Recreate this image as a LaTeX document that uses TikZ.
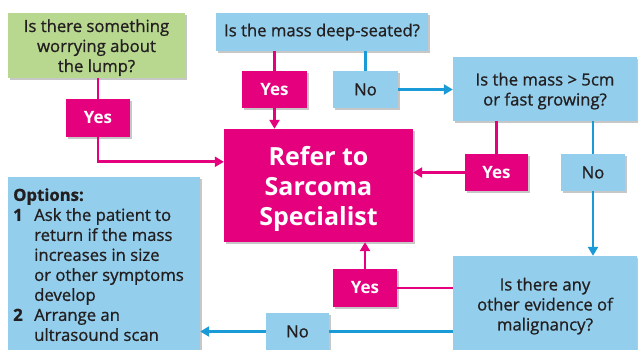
\documentclass[tikz,border=0pt]{standalone}
\usepackage{fontspec}
\setmainfont{Open Sans}
\newfontfamily\medfont[FakeBold=0.9]{Open Sans}
\usetikzlibrary{arrows.meta,shadows,calc}
\definecolor{pk}{HTML}{E5007E}
\definecolor{lb}{HTML}{93CEEC}
\definecolor{gr}{HTML}{B8D78F}
\definecolor{ab}{HTML}{1A9AD7}
\definecolor{tx}{HTML}{231F20}
\newcommand\mytopstrut[1]{\rule{0pt}{#1}}
\begin{document}
\begin{tikzpicture}[x=1pt,y=-1pt,
  box/.style={draw=none, inner sep=0pt, align=center,
    font=\medfont\fontsize{16.7}{20}\selectfont, text=tx,
    drop shadow={shadow xshift=1.6pt,shadow yshift=-1.6pt,fill=black,opacity=0.22}},
  qbox/.style={box, fill=lb},
  gbox/.style={box, fill=gr},
  pbox/.style={box, fill=pk, text=white, font=\bfseries\fontsize{17}{20}\selectfont},
  bline/.style={draw=ab, line width=2.6pt},
  pline/.style={draw=pk, line width=2.6pt},
  tip/.style={-{Triangle[length=9pt,width=10pt]}}
]
\useasboundingbox (0,0) rectangle (638,350);

% boxes
\node[gbox, minimum width=177, minimum height=65] (lump) at (96.5,45.5)
  {\mytopstrut{17pt}Is there something\\worrying about\\the lump?};
\node[qbox, minimum width=212, minimum height=38] (deep) at (322,32)
  {Is the mass deep-seated?};
\node[pbox, minimum width=64, minimum height=38] (yes1) at (98,118) {Yes};
\node[pbox, minimum width=65, minimum height=37] (yes2) at (274.5,89.5) {Yes};
\node[qbox, minimum width=65, minimum height=37] (no1) at (365.5,89.5) {No};
\node[qbox, minimum width=184, minimum height=64] (mass) at (545,89)
  {\mytopstrut{17pt}Is the mass > 5cm\\or fast growing?};
\node[pbox, minimum width=189, minimum height=113,
  font=\bfseries\fontsize{25}{30}\selectfont] (refer) at (318.5,185.5)
  {\mytopstrut{27pt}Refer to\\Sarcoma\\Specialist};
\node[pbox, minimum width=63, minimum height=37] (yes3) at (496.5,172.5) {Yes};
\node[qbox, minimum width=64, minimum height=37] (no2) at (593,172.5) {No};
\node[qbox, minimum width=184, minimum height=94] (malig) at (545,303)
  {\mytopstrut{19pt}Is there any\\other evidence of\\malignancy?};
\node[pbox, minimum width=64, minimum height=38] (yes4) at (365,288) {Yes};
\node[qbox, minimum width=63, minimum height=37] (no3) at (297.5,331.5) {No};
\node[qbox, minimum width=192, minimum height=173] (opts) at (104,263.5) {};
\node[anchor=north west, inner sep=0pt, align=left, text=tx,
  font=\medfont\fontsize{16.7}{20}\selectfont] (optstext) at (13,188)
  {\textbf{Options:}\\
   \makebox[21pt][l]{\textbf{1}}Ask the patient to\\
   \hspace*{21pt}return if the mass\\
   \hspace*{21pt}increases in size\\
   \hspace*{21pt}or other symptoms\\
   \hspace*{21pt}develop\\
   \makebox[21pt][l]{\textbf{2}}Arrange an\\
   \hspace*{21pt}ultrasound scan};

% connectors
\draw[pline] (yes1.north |- lump.south) -- (yes1.north);
\draw[pline,tip] (yes1.south) |- ($(refer.north west)+(0,33)$);
\draw[pline] (yes2.north |- deep.south) -- (yes2.north);
\draw[pline,tip] (yes2.south) -- (yes2.south |- refer.north);
\draw[bline] (no1.north |- deep.south) -- (no1.north);
\draw[bline,tip] (no1.east) -- (no1.east -| mass.west);
\draw[pline] (yes3.north |- mass.south) -- (yes3.north);
\draw[pline,tip] (yes3.west) -- (yes3.west -| refer.east);
\draw[bline] (no2.north |- mass.south) -- (no2.north);
\draw[bline,tip] (no2.south) -- (no2.south |- malig.north);
\draw[pline] (yes4.east -| malig.west) -- (yes4.east);
\draw[pline,tip] (yes4.north) -- (yes4.north |- refer.south);
\draw[bline] (no3.east -| malig.west) -- (no3.east);
\draw[bline,tip] (no3.west) -- (no3.west -| opts.east);
\end{tikzpicture}
\end{document}
